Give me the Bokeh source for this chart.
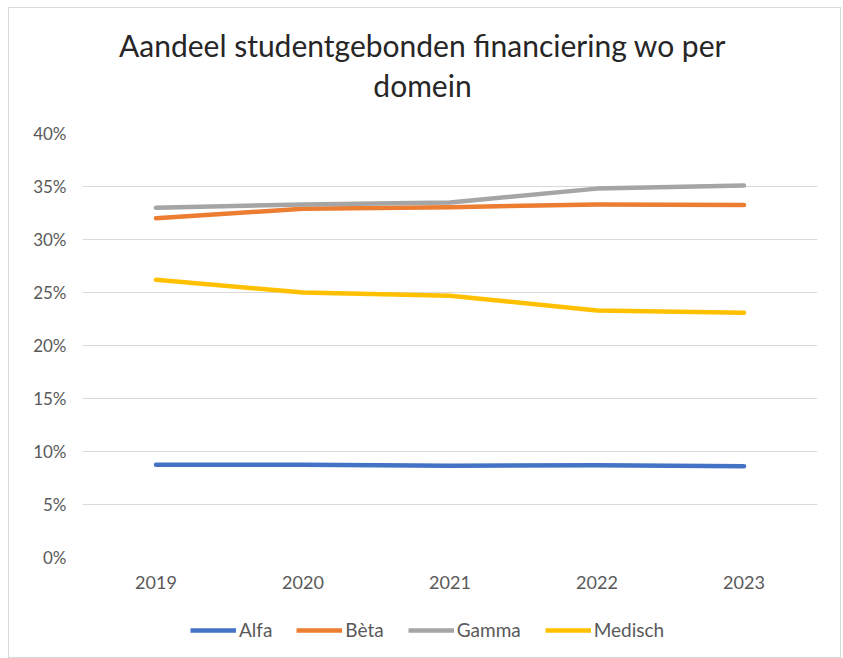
from bokeh.plotting import figure
from bokeh.models import (Legend, LegendItem, NumeralTickFormatter, Range1d, FixedTicker, Label)
from bokeh.layouts import column
from bokeh.embed import file_html
from bokeh.resources import INLINE

years = ["2019", "2020", "2021", "2022", "2023"]
alfa = [0.0875, 0.0875, 0.0865, 0.0870, 0.0862]
beta = [0.320, 0.329, 0.3305, 0.333, 0.3325]
gamma = [0.330, 0.333, 0.335, 0.348, 0.351]
medisch = [0.262, 0.250, 0.247, 0.233, 0.231]
series_names = ["Alfa", "Bèta", "Gamma", "Medisch"]
colors = ["#4472C4", "#ED7D31", "#A5A5A5", "#FFC000"]
y_ticks = [0, 0.05, 0.10, 0.15, 0.20, 0.25, 0.30, 0.35, 0.40]
title_lines = ["Aandeel studentgebonden financiering wo per", "domein"]

FONT = "Lato"
TXT = "#595959"
W = 831

# ---- title strip (x range expressed in page pixels of the aligned frame) ----
tfig = figure(width=W, height=110, x_range=Range1d(82, 817), y_range=Range1d(0, 110),
              output_backend="svg", toolbar_location=None, x_axis_type=None, y_axis_type=None,
              min_border=0)
tfig.outline_line_color = None
tfig.xgrid.visible = False
tfig.ygrid.visible = False
for txt, yy in zip(title_lines, [74, 34]):
    tfig.add_layout(Label(x=422, y=yy, text=txt, text_align="center", text_baseline="middle",
                          text_font=FONT, text_font_size="30px", text_color="#262626"))

# ---- main chart ----
p = figure(x_range=years, y_range=Range1d(0, 0.40), width=W, height=490,
           output_backend="svg", toolbar_location=None,
           min_border_left=73, min_border_right=23, min_border_top=15, min_border_bottom=51)
p.outline_line_color = None
series = [alfa, beta, gamma, medisch]
for name, vals, c in zip(series_names, series, colors):
    p.line(years, vals, line_color=c, line_width=4.5, line_cap="round", line_join="round")

p.yaxis.ticker = FixedTicker(ticks=y_ticks)
p.yaxis.formatter = NumeralTickFormatter(format="0%")
for ax in [p.xaxis[0], p.yaxis[0]]:
    ax.axis_line_color = None
    ax.major_tick_line_color = None
    ax.minor_tick_line_color = None
    ax.major_tick_out = 0
    ax.major_tick_in = 0
    ax.minor_tick_out = 0
    ax.major_label_text_font = FONT
    ax.major_label_text_color = TXT
p.xaxis.major_label_text_font_size = "18px"
p.yaxis.major_label_text_font_size = "17px"
p.yaxis.major_label_standoff = 16
p.xaxis.major_label_standoff = 18
p.xgrid.grid_line_color = None
p.ygrid.grid_line_color = "#D9D9D9"
p.ygrid.grid_line_width = 1

# ---- legend strip ----
lfig = figure(width=W, height=49, x_range=years, y_range=Range1d(10, 11),
              output_backend="svg", toolbar_location=None, x_axis_type=None, y_axis_type=None,
              min_border=0)
lfig.outline_line_color = None
lfig.xgrid.visible = False
lfig.ygrid.visible = False
items = []
for name, vals, c in zip(series_names, series, colors):
    r = lfig.line(years, vals, line_color=c, line_width=4.5)
    items.append(LegendItem(label=name, renderers=[r]))
legend = Legend(items=items, orientation="horizontal", location=(108, 16),
                label_text_font=FONT, label_text_font_size="19px", label_text_color=TXT,
                glyph_width=46, glyph_height=20, spacing=24, label_standoff=3,
                border_line_color=None, background_fill_alpha=0, padding=0, margin=0)
lfig.add_layout(legend, "center")

layout = column(tfig, p, lfig, spacing=0)
layout.styles = {"border": "1px solid #D9D9D9", "margin-left": "8px", "margin-top": "7px"}

open("out.html", "w").write(file_html(layout, INLINE))
